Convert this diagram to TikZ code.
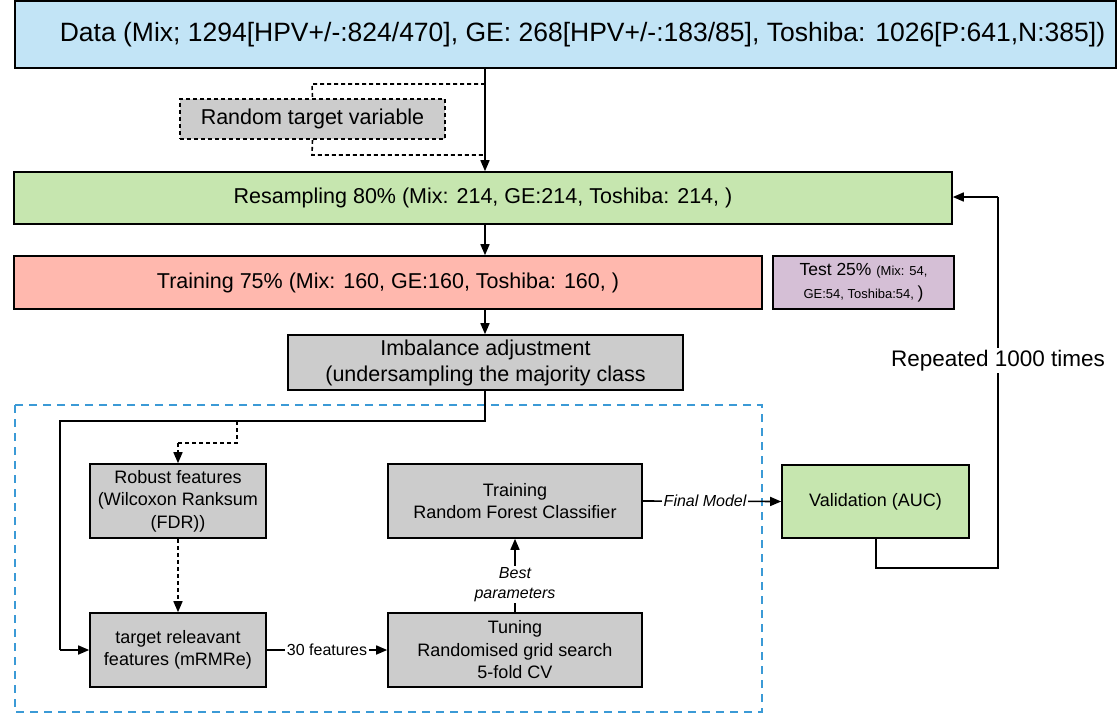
\documentclass[tikz,border=0pt]{standalone}
\usepackage{fontspec}
\setmainfont{Liberation Sans}
\usetikzlibrary{arrows.meta}
\definecolor{cdata}{HTML}{C2E4F6}
\definecolor{cgreen}{HTML}{C6E6AF}
\definecolor{csalmon}{HTML}{FFB8AE}
\definecolor{cpurple}{HTML}{D5BFD6}
\definecolor{cgray}{HTML}{CCCCCC}
\definecolor{cblue}{HTML}{3B9AD6}
\tikzset{
  box/.style={draw=black, line width=1.6pt, inner sep=0pt, align=center, anchor=center},
  bigtxt/.style={font=\fontsize{21.5}{26}\selectfont},
  smalltxt/.style={font=\fontsize{18}{22.5}\selectfont},
  conn/.style={line width=1.6pt, draw=black},
  arr/.style={conn, -{Triangle[length=11pt,width=9pt]}},
  dconn/.style={conn, dash pattern=on 4pt off 3pt},
  darr/.style={dconn, -{Triangle[length=11pt,width=9pt]}},
  lbl/.style={fill=white, inner sep=1.5pt, font=\fontsize{16}{20}\selectfont\itshape, align=center},
}
\begin{document}
\begin{tikzpicture}[x=1pt,y=-1pt]
\useasboundingbox (0,0) rectangle (1117,713);
% blue dashed frame
\draw[cblue, line width=1.6pt, dash pattern=on 8pt off 6pt] (15,405) rectangle (762,712);
% nodes
\node[box, fill=cdata, minimum width=1101pt, minimum height=67pt,
  font=\fontsize{26.5}{30}\selectfont] (data) at (565.5,34.5)
  {\hspace*{34pt}Data (Mix; 1294[HPV+/-:824/470], GE: 268[HPV+/-:183/85], Toshiba: 1026[P:641,N:385])};
\node[box, fill=cgray, minimum width=265pt, minimum height=40pt, bigtxt,
  dash pattern=on 4pt off 3pt] (rand) at (312.5,119) {Random target variable};
\node[box, fill=cgreen, minimum width=938pt, minimum height=52pt, bigtxt] (resamp) at (483,198)
  {Resampling 80\% (Mix: 214, GE:214, Toshiba: 214, )};
\node[box, fill=csalmon, minimum width=748pt, minimum height=53pt, bigtxt] (train) at (388,282.5)
  {Training 75\% (Mix: 160, GE:160, Toshiba: 160, )};
\node[box, fill=cpurple, minimum width=181pt, minimum height=53pt,
  font=\fontsize{17.5}{24}\selectfont] (test) at (863.5,282.5)
  {Test 25\% {\fontsize{13}{24}\selectfont (Mix: 54,}\\[-1pt]{\fontsize{13}{24}\selectfont GE:54, Toshiba:54, })};
\node[box, fill=cgray, minimum width=395pt, minimum height=55pt, bigtxt] (imb) at (485.5,362.5)
  {Imbalance adjustment\\(undersampling the majority class};
\node[box, fill=cgray, minimum width=176pt, minimum height=74pt, smalltxt] (robust) at (178,501)
  {Robust features\\(Wilcoxon Ranksum\\(FDR))};
\node[box, fill=cgray, minimum width=176pt, minimum height=74pt, smalltxt] (target) at (178,650)
  {target releavant\\features (mRMRe)};
\node[box, fill=cgray, minimum width=254pt, minimum height=74pt, smalltxt] (rf) at (515,501)
  {Training\\Random Forest Classifier};
\node[box, fill=cgray, minimum width=254pt, minimum height=74pt, smalltxt] (tune) at (515,650)
  {Tuning\\Randomised grid search\\5-fold CV};
\node[box, fill=cgreen, minimum width=187pt, minimum height=73pt, smalltxt] (valid) at (875.5,501.5)
  {Validation (AUC)};
% junction coordinates
\coordinate (j1) at (485,84);
\coordinate (j2) at (312,84);
\coordinate (j3) at (312,155);
\coordinate (j4) at (485,155);
\coordinate (k1) at (485,421);
\coordinate (k2) at (60,421);
\coordinate (k3) at (60,650);
\coordinate (m1) at (237,421);
\coordinate (m2) at (237,443);
\coordinate (m3) at (178,443);
\coordinate (l1) at (876,568);
\coordinate (l2) at (998,568);
\coordinate (l3) at (998,197);
% connectors
\draw[dconn] (j1) -- (j2) -- (rand.north);
\draw[dconn] (rand.south) -- (j3) -- (j4);
\draw[arr] (data.south -| j1) -- (resamp.north -| j1);
\draw[arr] (resamp.south -| j1) -- (train.north -| j1);
\draw[arr] (train.south -| j1) -- (imb.north -| j1);
\draw[conn] (imb.south -| k1) -- (k1) -- (k2) -- (k3);
\draw[arr] (k3) -- (target.west);
\draw[dconn] (m1) -- (m2) -- (m3);
\draw[darr] (m3) -- (robust.north);
\draw[darr] (robust.south) -- (target.north);
\draw[arr] (target.east) -- node[lbl, font=\fontsize{16}{20}\selectfont] {30 features} (tune.west);
\draw[arr] (tune.north) -- node[lbl, pos=0.38] {Best\\parameters} (rf.south);
\draw[arr] (rf.east) -- node[lbl, pos=0.45] {Final Model} (valid.west);
\draw[conn] (valid.south -| l1) -- (l1) -- (l2) -- node[fill=white, inner sep=2pt,
  font=\fontsize{22.5}{26}\selectfont, pos=0.56] {Repeated 1000 times} (l3);
\draw[arr] (l3) -- (resamp.east |- l3);
\end{tikzpicture}
\end{document}
